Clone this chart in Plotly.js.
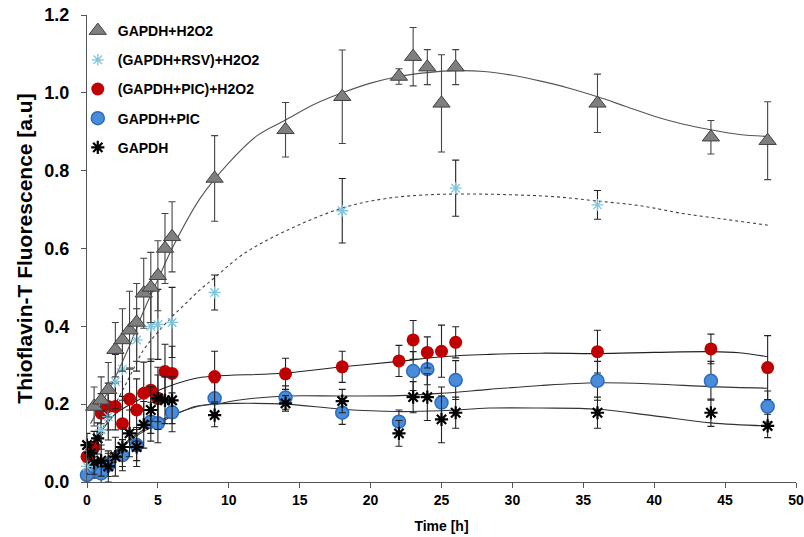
<!DOCTYPE html>
<html>
<head>
<meta charset="utf-8">
<script src="https://cdn.plot.ly/plotly-3.0.1.min.js"></script>
<style>html,body{margin:0;padding:0;background:#fff;}#chart{width:804px;height:537px;}</style>
</head>
<body>
<div id="chart"></div>
<script>
// ---- Data ----
// GAPDH+H2O2
const tH2O2 = [0.5,1,1.5,2,2.5,3,3.5,4,4.5,5,5.5,6,9,14,18,22,23,24,25,26,36,44,48];
const vH2O2 = [0.194,0.21,0.237,0.34,0.365,0.39,0.41,0.485,0.5,0.53,0.6,0.63,0.78,0.905,0.99,1.042,1.093,1.066,0.973,1.066,0.973,0.886,0.877];
const eH2O2 = [0.05,0.06,0.07,0.07,0.08,0.1,0.1,0.09,0.09,0.09,0.09,0.09,0.11,0.07,0.12,0.02,0.075,0.045,0.125,0.045,0.075,0.043,0.1];
// (GAPDH+RSV)+H2O2
const tRSV = [0,1,1.5,2,2.5,3.5,4.5,5,6,9,18,26,36];
const vRSV = [0.04,0.134,0.168,0.258,0.29,0.365,0.4,0.405,0.41,0.487,0.697,0.755,0.712];
const eRSV = [0.02,0.05,0.06,0.07,0.08,0.08,0.09,0.09,0.09,0.045,0.083,0.072,0.037];
// (GAPDH+PIC)+H2O2
const tPICH = [0,0.5,1,1.5,2,2.5,3,3.5,4,4.5,5,5.5,6,9,14,18,22,23,24,25,26,36,44,48];
const vPICH = [0.065,0.09,0.177,0.194,0.194,0.15,0.213,0.185,0.228,0.236,0.215,0.284,0.279,0.271,0.278,0.296,0.311,0.365,0.333,0.336,0.359,0.335,0.342,0.294];
const ePICH = [0.03,0.04,0.05,0.06,0.06,0.07,0.08,0.08,0.08,0.08,0.08,0.07,0.07,0.065,0.04,0.04,0.04,0.05,0.04,0.067,0.04,0.055,0.038,0.082];
// GAPDH+PIC
const tPIC = [0,0.5,1,1.5,2.5,3.5,4.5,5,6,9,14,18,22,23,24,25,26,36,44,48];
const vPIC = [0.018,0.04,0.022,0.044,0.069,0.095,0.155,0.151,0.179,0.215,0.217,0.178,0.155,0.285,0.29,0.204,0.262,0.26,0.26,0.194];
const ePIC = [0.02,0.03,0.03,0.03,0.04,0.04,0.05,0.05,0.05,0.04,0.03,0.03,0.03,0.05,0.04,0.04,0.05,0.05,0.05,0.04];
// GAPDH
const tG = [0,0.25,0.5,0.75,1,1.5,2,2.5,3,3.5,4,4.5,5,5.5,6,9,14,18,22,23,24,25,26,36,44,48];
const vG = [0.095,0.074,0.05,0.112,0.055,0.04,0.065,0.09,0.125,0.09,0.147,0.185,0.215,0.21,0.21,0.172,0.202,0.208,0.125,0.218,0.218,0.161,0.178,0.178,0.178,0.144];
const eG = [0.03,0.03,0.03,0.04,0.04,0.04,0.05,0.05,0.06,0.05,0.06,0.06,0.06,0.06,0.06,0.03,0.02,0.03,0.033,0.04,0.06,0.06,0.04,0.04,0.035,0.03];

// Trend lines
const ctH2O2 = [0.25,1,2,3,4,5,6,8,10,12,14,16,18,20,22,24,26,28,30,32,34,36,38,40,42,44,46,48];
const cvH2O2 = [0.15,0.2,0.27,0.35,0.44,0.52,0.6,0.73,0.82,0.89,0.93,0.97,1.0,1.025,1.042,1.052,1.057,1.055,1.045,1.03,1.012,0.99,0.965,0.94,0.92,0.905,0.893,0.888];
const ctRSV = [0.2,1,2,3,4,5,6,7,8,9,11,14,18,21,24,27,30,33,36,39,42,45,48];
const cvRSV = [0.07,0.13,0.2,0.27,0.34,0.385,0.425,0.46,0.495,0.525,0.585,0.645,0.704,0.728,0.738,0.74,0.738,0.733,0.722,0.71,0.69,0.675,0.66];
const ctPICH = [0,1,2,3.4,5,7.6,9,14,18,22,25,28.4,32,36,40,44,46,48];
const cvPICH = [0.08,0.13,0.175,0.206,0.235,0.266,0.272,0.28,0.296,0.31,0.322,0.328,0.331,0.33,0.333,0.335,0.332,0.322];
const ctPIC = [0,1,2,3.4,5,7.6,9,11,14,18,22,25,28.4,32,36,40,44,48];
const cvPIC = [0.0,0.04,0.075,0.116,0.15,0.194,0.2,0.212,0.221,0.221,0.222,0.228,0.238,0.248,0.255,0.252,0.245,0.241];
const ctG = [0,1,2,3.4,5,7.6,9,10.5,14,18,21.8,25,28.4,32,36,40,44,48];
const cvG = [0.01,0.05,0.08,0.12,0.155,0.192,0.2,0.202,0.2,0.187,0.181,0.183,0.19,0.19,0.187,0.17,0.152,0.144];

const names = ['GAPDH+H2O2','(GAPDH+RSV)+H2O2','(GAPDH+PIC)+H2O2','GAPDH+PIC','GAPDH'];

function curve(x, y, color, dash) {
  return {x: x, y: y, mode: 'lines', type: 'scatter', showlegend: false, hoverinfo: 'skip',
    line: {color: color, width: 1.1, shape: 'spline', smoothing: 1, dash: dash || 'solid'}, cliponaxis: false};
}
function pts(x, y, e, name, marker, ecol, grp, rank) {
  return {x: x, y: y, mode: 'markers', type: 'scatter', name: name, legendgroup: grp, legendrank: rank,
    error_y: {type: 'data', array: e, visible: true, color: ecol, thickness: 1.1, width: 3.5},
    marker: marker, cliponaxis: false};
}

const data = [
  curve(ctH2O2, cvH2O2, '#555555'),
  curve(ctRSV, cvRSV, '#444444', 'dot'),
  curve(ctPICH, cvPICH, '#222222'),
  curve(ctPIC, cvPIC, '#333333'),
  curve(ctG, cvG, '#333333'),
  pts(tPIC, vPIC, ePIC, names[3], {symbol: 'circle', size: 13, color: '#4A8CDA', line: {color: '#2A6CC0', width: 1.5}}, '#222222', 'g4', 4),
  pts(tPICH, vPICH, ePICH, names[2], {symbol: 'circle', size: 13, color: '#C00000', line: {color: '#C00000', width: 0}}, '#222222', 'g3', 3),
  pts(tG, vG, eG, names[4], {symbol: 'asterisk-open', size: 11, color: '#000000', line: {color: '#000000', width: 2.2}}, '#222222', 'g5', 5),
  pts(tRSV, vRSV, eRSV, names[1], {symbol: 'asterisk-open', size: 10, color: '#7EC6E0', line: {color: '#7EC6E0', width: 1.3}}, '#222222', 'g2', 2),
  pts(tH2O2, vH2O2, eH2O2, names[0], {symbol: 'triangle-up', size: 15, color: '#7F7F7F', line: {color: '#404040', width: 1}}, '#444444', 'g1', 1)
];

const fontFam = '"Liberation Sans", Arial, sans-serif';
const layout = {
  width: 804, height: 537,
  margin: {l: 87, r: 8, t: 15, b: 55},
  paper_bgcolor: '#ffffff', plot_bgcolor: '#ffffff',
  showlegend: true,
  legend: {x: -0.013, y: 1.0, xanchor: 'left', yanchor: 'top', bgcolor: 'rgba(0,0,0,0)',
    font: {family: fontFam, size: 14, color: '#000', weight: 'bold'},
    traceorder: 'grouped', tracegroupgap: 8, itemwidth: 30},
  xaxis: {range: [0, 50], dtick: 5, tick0: 0, showgrid: false, zeroline: false,
    showline: true, linecolor: '#555555', linewidth: 1, ticks: 'outside', ticklen: 5, tickcolor: '#555555',
    tickfont: {family: fontFam, size: 14, color: '#000', weight: 'bold'},
    title: {text: 'Time [h]', font: {family: fontFam, size: 14, color: '#000', weight: 'bold'}, standoff: 14}},
  yaxis: {range: [0, 1.2], dtick: 0.2, tick0: 0, tickformat: '.1f', showgrid: false, zeroline: false,
    showline: true, linecolor: '#555555', linewidth: 1, ticks: 'outside', ticklen: 5, tickcolor: '#555555',
    ticklabelstandoff: 8,
    tickfont: {family: fontFam, size: 18, color: '#000', weight: 'bold'},
    title: {text: 'Thioflavin-T Fluorescence [a.u]', font: {family: fontFam, size: 21, color: '#000', weight: 'bold'}, standoff: 6}}
};

Plotly.newPlot('chart', data, layout, {displayModeBar: false, staticPlot: true});
</script>
</body>
</html>
